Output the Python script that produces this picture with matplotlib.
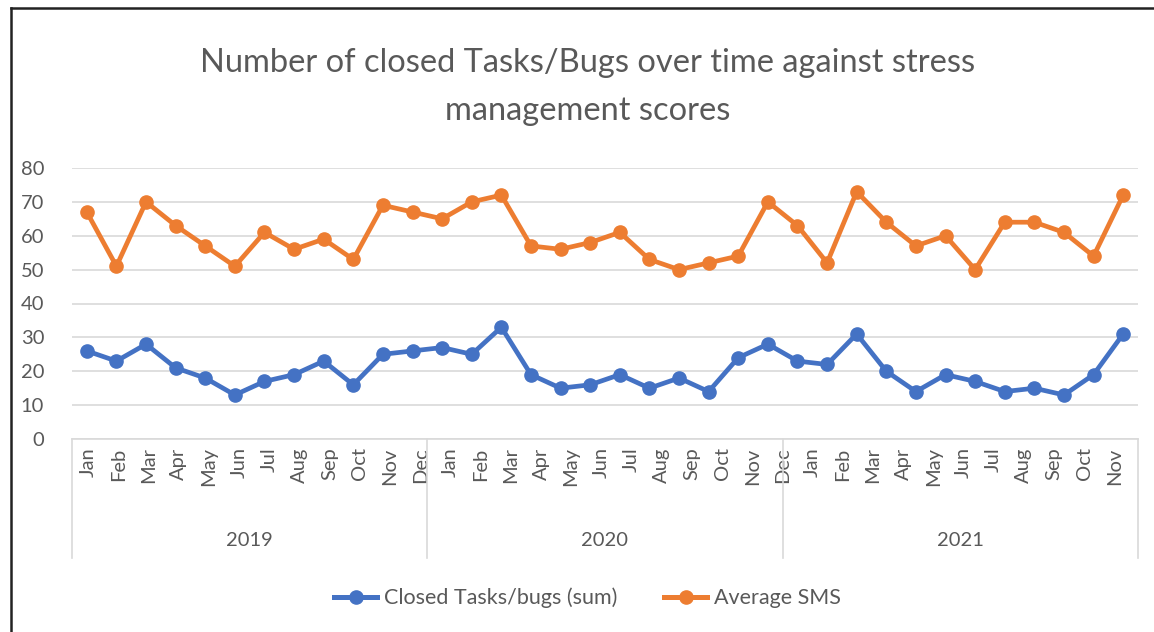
import numpy as np
import matplotlib
matplotlib.use("Agg")
import matplotlib.pyplot as plt
from matplotlib.lines import Line2D

plt.rcParams['font.family'] = ['Lato', 'DejaVu Sans']

# data (36 monthly points)
closed_tasks = [26, 23, 28, 21, 18, 13, 17, 19, 23, 16, 25, 26,
                27, 25, 33, 19, 15, 16, 19, 15, 18, 14, 24, 28,
                23, 22, 31, 20, 14, 19, 17, 14, 15, 13, 19, 31]
average_sms = [67, 51, 70, 63, 57, 51, 61, 56, 59, 53, 69, 67,
               65, 70, 72, 57, 56, 58, 61, 53, 50, 52, 54, 70,
               63, 52, 73, 64, 57, 60, 50, 64, 64, 61, 54, 72]

# axis labels exactly as they appear (35 month labels)
month_labels = ['Jan', 'Feb', 'Mar', 'Apr', 'May', 'Jun', 'Jul', 'Aug', 'Sep', 'Oct', 'Nov', 'Dec',
                'Jan', 'Feb', 'Mar', 'Apr', 'May', 'Jun', 'Jul', 'Aug', 'Sep', 'Oct', 'Nov', 'Dec',
                'Jan', 'Feb', 'Mar', 'Apr', 'May', 'Jun', 'Jul', 'Aug', 'Sep', 'Oct', 'Nov']
years = ['2019', '2020', '2021']
months_per_year = 12

title = 'Number of closed Tasks/Bugs over time against stress\nmanagement scores'

BLUE = '#4472C4'
ORANGE = '#ED7D31'
GRID = '#D9D9D9'
TEXT = '#595959'

W, H = 1154, 632
fig = plt.figure(figsize=(W / 100, H / 100), dpi=100)
ax = fig.add_axes([72 / W, 1 - 439 / H, (1138 - 72) / W, (439 - 168) / H])

x = np.arange(len(closed_tasks))
ax.plot(x, closed_tasks, color=BLUE, lw=3.4, marker='o', ms=9.5, label='Closed Tasks/bugs (sum)',
        solid_capstyle='round', zorder=3)
ax.plot(x, average_sms, color=ORANGE, lw=3.4, marker='o', ms=9.5, label='Average SMS',
        solid_capstyle='round', zorder=3)

ax.set_xlim(-0.5, len(x) - 0.5)
ax.set_ylim(0, 80)
ax.set_yticks(range(0, 81, 10))
ax.grid(axis='y', color=GRID, lw=1.2)
ax.set_axisbelow(True)
for s in ['top', 'right', 'left']:
    ax.spines[s].set_visible(False)
ax.spines['bottom'].set_color(GRID)
ax.spines['bottom'].set_linewidth(1.2)

ax.tick_params(axis='y', length=0, pad=20, labelsize=14.5, labelcolor=TEXT)
label_pos = np.linspace(0.05, 34.7, len(month_labels))
ax.set_xticks(label_pos)
ax.set_xticklabels(month_labels, rotation=90, va='top', ha='center')
ax.tick_params(axis='x', length=0, pad=6, labelsize=14.5, labelcolor=TEXT)

# year grouping lines and labels below the axis
trans = ax.get_xaxis_transform()
for b in range(len(years) + 1):
    xb = b * months_per_year - 0.5
    ax.plot([xb, xb], [0, -0.44], color=GRID, lw=1.2, transform=trans, clip_on=False)
for i, yr in enumerate(years):
    xc = i * months_per_year + (months_per_year - 1) / 2
    ax.text(xc, -0.373, yr, transform=trans, ha='center', va='center', fontsize=14.5, color=TEXT)

fig.text(0.509, 0.862, title, ha='center', va='center', fontsize=23.5, color=TEXT, linespacing=1.73)

handles = [Line2D([0], [0], color=BLUE, lw=3.6, marker='o', ms=9.5),
           Line2D([0], [0], color=ORANGE, lw=3.6, marker='o', ms=9.5)]
fig.legend(handles, ['Closed Tasks/bugs (sum)', 'Average SMS'], loc='center',
           bbox_to_anchor=(0.509, 0.054), ncol=2, frameon=False, fontsize=15.5,
           labelcolor=TEXT, handlelength=2.0, columnspacing=2.2, handletextpad=0.3)

# outer frame (top and left edges visible in the reference)
fig.add_artist(Line2D([11 / W, 11 / W], [0, 1 - 8 / H], color='#222222', lw=1.8, transform=fig.transFigure))
fig.add_artist(Line2D([11 / W, 1], [1 - 8 / H, 1 - 8 / H], color='#222222', lw=1.8, transform=fig.transFigure))

fig.savefig('out.png', dpi=100)
